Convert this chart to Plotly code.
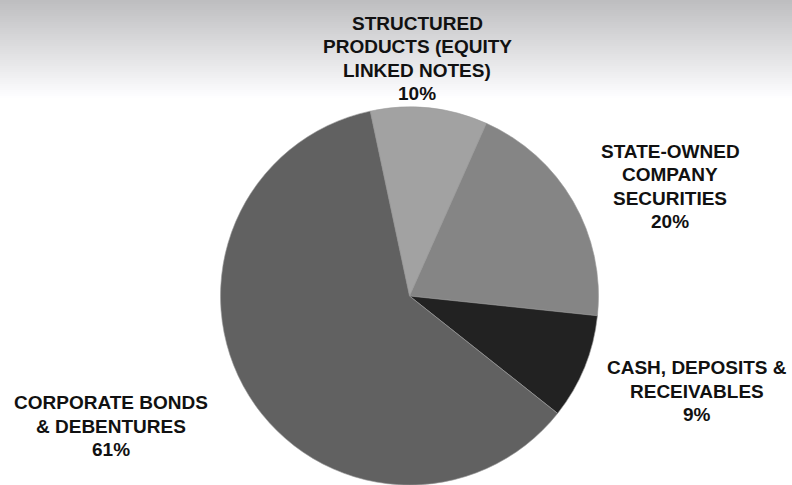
import plotly.graph_objects as go

W, H = 792, 485

labels = ["STRUCTURED<br>PRODUCTS (EQUITY<br>LINKED NOTES)",
          "STATE-OWNED<br>COMPANY<br>SECURITIES",
          "CASH, DEPOSITS &<br>RECEIVABLES",
          "CORPORATE BONDS<br>& DEBENTURES"]
values = [10, 20, 9, 61]
colors = ["#a2a2a2", "#858585", "#222222", "#616161"]

# label block: centre x and baseline of last line, in pixels from top-left
label_pos = [(417, 100), (670, 228), (697, 421), (111, 456)]
LINE = 23.4
FS = 19

fig = go.Figure()
fig.add_trace(go.Pie(
    labels=[l.replace("<br>", " ") for l in labels],
    values=values,
    sort=False,
    direction="clockwise",
    rotation=-12,
    marker=dict(colors=colors, line=dict(color="#9a9a9a", width=0.6)),
    textinfo="none",
    hoverinfo="label+percent",
    showlegend=False,
    domain=dict(x=[(409.5 - 189) / W, (409.5 + 189) / W], y=[0, 378 / H]),
))

# background gradient at top
shapes = []
n = 50
top_h = 100
for i in range(n):
    t = i / (n - 1)
    g = int(round(190 + (255 - 190) * t))
    shapes.append(dict(type="rect", xref="paper", yref="paper",
                       x0=0, x1=1,
                       y0=1 - (i + 1) * top_h / n / H, y1=1 - i * top_h / n / H,
                       fillcolor=f"rgb({g},{g},{min(255, g + 2)})",
                       line=dict(width=0), layer="below"))

annotations = []
for lab, v, (px, pb) in zip(labels, values, label_pos):
    lines = lab.split("<br>") + [f"{v}%"]
    k = len(lines)
    for j, ln in enumerate(lines):
        base = pb - (k - 1 - j) * LINE
        yc = base - 6.5
        annotations.append(dict(
            text=f"<b>{ln}</b>", xref="paper", yref="paper",
            x=px / W, y=1 - yc / H, xanchor="center", yanchor="middle",
            showarrow=False, align="center",
            font=dict(family="Liberation Sans, Arial, sans-serif", size=FS, color="#111111"),
        ))

fig.update_layout(
    width=W, height=H,
    margin=dict(l=0, r=0, t=0, b=0),
    paper_bgcolor="white", plot_bgcolor="white",
    shapes=shapes, annotations=annotations,
)
fig.write_html("out.html")
